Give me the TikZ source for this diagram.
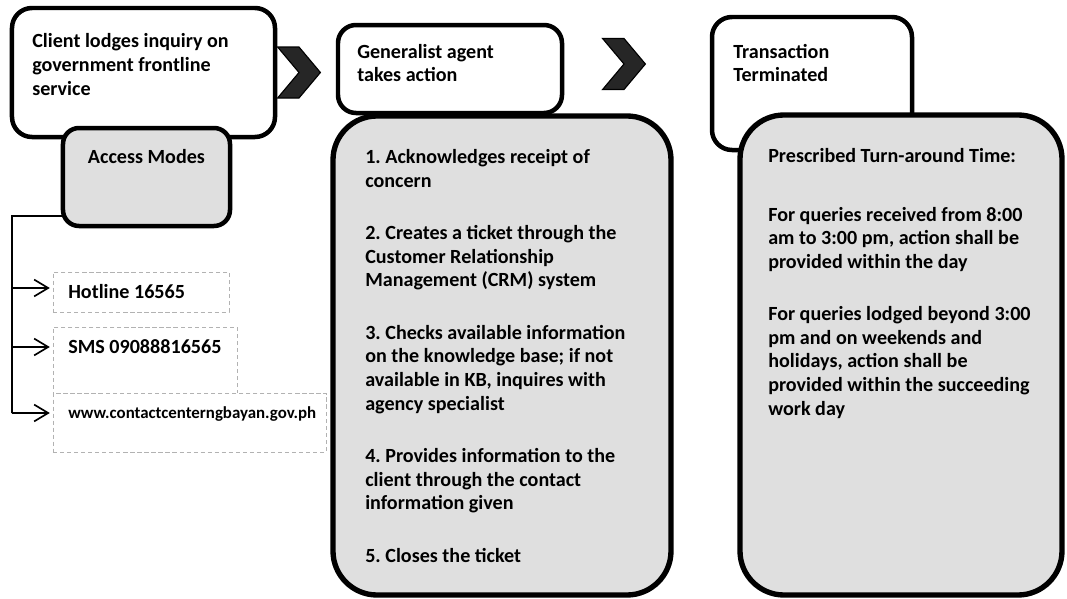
\documentclass[tikz,border=0pt]{standalone}
\usepackage{fontspec}
\setmainfont{Carlito}
\frenchspacing
\usetikzlibrary{arrows.meta, positioning, shapes.symbols, calc}

\begin{document}
\begin{tikzpicture}[
    x=0.25mm, y=-0.25mm,
    topbox/.style={rectangle, draw=black, fill=white, line width=3.2pt, outer sep=0pt, rounded corners=5mm},
    modebox/.style={rectangle, draw=black, fill=gray!25, line width=3.2pt, outer sep=0pt, rounded corners=4mm},
    listbox/.style={rectangle, draw=black, fill=gray!25, line width=3.8pt, outer sep=0pt, rounded corners=11mm},
    channel/.style={rectangle, draw=gray!60, densely dashed, line width=0.6pt, fill=white, outer sep=0pt},
    chev/.style={signal, signal from=west, signal to=east, signal pointer angle=100, fill=black!85, draw=black, line width=0.8pt, inner sep=0pt, minimum width=9.5mm, minimum height=12.75mm},
    txt/.style={align=left, inner sep=0pt, font=\fontsize{14.3}{16.8}\selectfont\bfseries},
    smalltxt/.style={align=left, inner sep=0pt, font=\fontsize{12}{14}\selectfont\bfseries},
    arrow/.style={-{Straight Barb[length=3.5mm, width=4.2mm]}, line width=1.2pt, shorten >=0.8mm},
    trunk/.style={line width=1.2pt},
]
\useasboundingbox (0,0) rectangle (1067,599);

% Stage boxes
\node[topbox, minimum width=65.75mm, minimum height=32.25mm] (client) at (143.5,72.5) {};
\node[modebox, minimum width=41.75mm, minimum height=24.5mm] (access) at (146.5,177) {};
\node[topbox, rounded corners=4.5mm, minimum width=56mm, minimum height=22mm] (agent) at (450,69) {};
\node[listbox, minimum width=84.5mm, minimum height=119.75mm] (steps) at (502,355.5) {};
\node[topbox, minimum width=50mm, minimum height=33.25mm] (done) at (812,83.5) {};
\node[listbox, minimum width=80.5mm, minimum height=120mm] (tat) at (901,355) {};

% Chevrons
\node[chev] (chevA) at (299,72.5) {};
\node[chev] (chevB) at (624,64) {};

% Access channels
\node[channel, minimum width=44mm, minimum height=10mm] (hotline) at (141,292) {};
\node[channel, minimum width=46mm, minimum height=16.5mm] (sms) at (145,360) {};
\node[channel, minimum width=68.25mm, minimum height=14.75mm] (web) at (189.5,422.5) {};

% Texts
\node[txt, below right=6.4mm and 5mm of client.north west] (clienttext) {Client lodges inquiry on\\government frontline\\service};
\node[txt, below=5.2mm of access.north] (accesstext) {Access Modes};
\node[txt, below right=4.7mm and 4.75mm of agent.north west] (agenttext) {Generalist agent\\takes action};
\node[txt, below right=6.7mm and 5.25mm of done.north west] (donetext) {Transaction\\Terminated};
\node[txt, below right=8.3mm and 8mm of steps.north west] (stepstext) {1. Acknowledges receipt of\\concern\\[20.5pt]
2. Creates a ticket through the\\Customer Relationship\\Management (CRM) system\\[20.5pt]
3. Checks available information\\on the knowledge base; if not\\available in KB, inquires with\\agency specialist\\[20.5pt]
4. Provides information to the\\client through the contact\\information given\\[20.5pt]
5. Closes the ticket};
\node[txt, below right=8.4mm and 7mm of tat.north west] (tattext) {Prescribed Turn-around Time:\\[24.5pt]
For queries received from 8:00\\am to 3:00 pm, action shall be\\provided within the day\\[20.5pt]
For queries lodged beyond 3:00\\pm and on weekends and\\holidays, action shall be\\provided within the succeeding\\work day};
\node[txt, below right=3mm and 3.75mm of hotline.north west] (hotlinetext) {Hotline 16565};
\node[txt, below right=3mm and 3.75mm of sms.north west] (smstext) {SMS 09088816565};
\node[smalltxt, below right=3.4mm and 3.75mm of web.north west] (webtext) {www.contactcenterngbayan.gov.ph};

% Connectors
\coordinate (bus) at (12,216);
\coordinate (hotin) at ($(hotline.north west)+(0,16)$);
\coordinate (smsin) at ($(sms.north west)+(0,20)$);
\coordinate (webin) at ($(web.north west)+(0,20)$);
\draw[trunk] ($(access.south west)+(0,-10)$) -- (bus) -- (bus |- webin);
\draw[arrow] (bus |- hotin) -- (hotin);
\draw[arrow] (bus |- smsin) -- (smsin);
\draw[arrow] (bus |- webin) -- (webin);

\end{tikzpicture}
\end{document}
